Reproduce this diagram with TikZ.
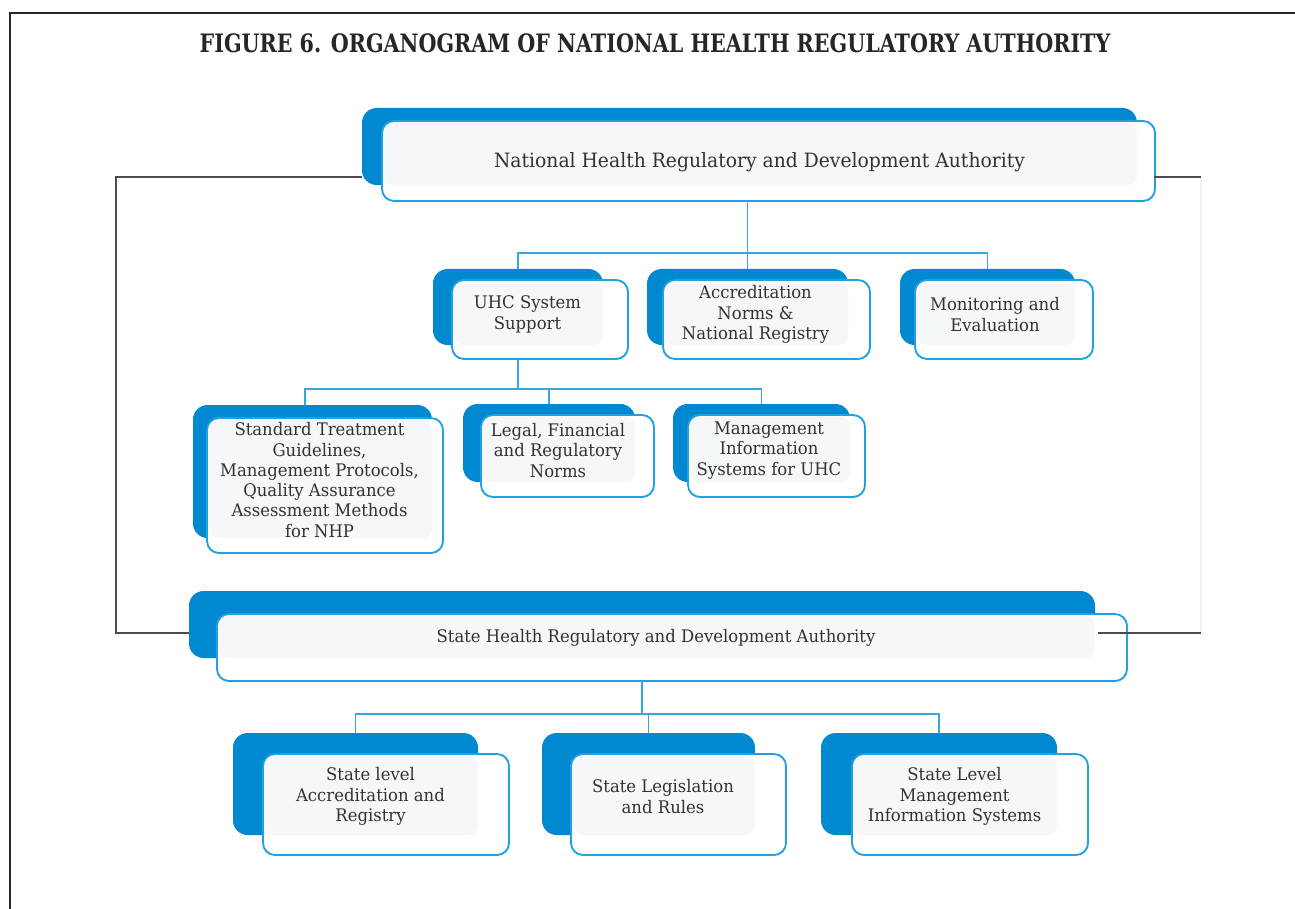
\documentclass[tikz,border=0pt]{standalone}
\usepackage{fontspec}
\setmainfont{DejaVu Serif}
\newfontfamily\titlefont[FakeStretch=0.815]{DejaVu Serif}
\newfontfamily\bodyfont[FakeStretch=0.95]{DejaVu Serif}
\usetikzlibrary{calc,fit}
\definecolor{dblue}{RGB}{0,137,208}
\definecolor{lblue}{RGB}{32,162,226}
\definecolor{cblue}{RGB}{50,168,226}
\definecolor{ingray}{RGB}{246,247,249}
\definecolor{txt}{RGB}{50,50,50}
\definecolor{brk}{RGB}{75,75,75}
\tikzset{
  backbox/.style={fill=dblue, rounded corners=11pt},
  frontbox/.style={draw=lblue, fill=white, line width=1.4pt, rounded corners=9pt},
  innerbox/.style={fill=ingray, rounded corners=7pt},
  boxtext/.style={align=center, text=txt, font=\bodyfont\fontsize{13}{15.2}\selectfont, inner sep=0pt},
  bigtext/.style={font=\bodyfont\fontsize{14.8}{17}\selectfont},
  conn/.style={draw=cblue, line width=1.3pt},
  bracket/.style={draw=brk, line width=1.4pt},
  ghost/.style={inner sep=0pt, draw=none}
}
% #1 name, #2 back top-left, #3 back bottom-right, #4 front top-left, #5 front bottom-right, #6 text
\newcommand\orgbox[7][]{%
  \fill[backbox] (#3) rectangle (#4);
  \node[ghost, fit={(#3)(#4)}] (#2b) {};
  \draw[frontbox] (#5) rectangle (#6);
  \node[ghost, fit={(#5)(#6)}] (#2) {};
  \fill[innerbox] ($(#5)+(2,2)$) rectangle (#4);
  \node[boxtext, #1] (#2t) at ($($(#5)!0.5!(#4)$)+(0,2)$) {#7};
}
\begin{document}
\begin{tikzpicture}[x=0.75pt,y=-0.75pt]
\useasboundingbox (0,0) rectangle (1295,909);
\fill[white] (0,0) rectangle (1295,909);
% frame
\coordinate (fr1) at (10,909);
\coordinate (fr2) at (10,13);
\coordinate (fr3) at (1295,13);
\draw[line width=1.8pt, draw=black!85] (fr1) -- (fr2) -- (fr3);
% title
\node[anchor=base, text=black!85, font=\titlefont\bfseries\fontsize{19}{22}\selectfont, inner sep=0pt] (title) at (655,53)
  {FIGURE 6. ORGANOGRAM OF NATIONAL HEALTH REGULATORY AUTHORITY};

% boxes
\orgbox[bigtext, yshift=-5.5pt]{nat}{362,108}{1137,185}{382,121}{1155,201}{National Health Regulatory and Development Authority}
\orgbox{uhc}{433,269}{603,345}{452,280}{628,359}{UHC System\\Support}
\orgbox{acc}{647,269}{848,345}{663,280}{870,359}{Accreditation\\Norms \&\\National Registry}
\orgbox{mon}{900,269}{1075,345}{915,280}{1093,359}{Monitoring and\\Evaluation}
\orgbox{stg}{193,405}{432,538}{207,418}{443,553}{Standard Treatment\\Guidelines,\\Management Protocols,\\Quality Assurance\\Assessment Methods\\for NHP}
\orgbox{leg}{463,404}{635,482}{481,415}{654,497}{Legal, Financial\\and Regulatory\\Norms}
\orgbox{mis}{673,404}{850,482}{688,415}{865,497}{Management\\Information\\Systems for UHC}
\orgbox{st}{189,591}{1095,658}{217,614}{1127,681}{State Health Regulatory and Development Authority}
\orgbox{sacc}{233,733}{478,835}{263,754}{509,855}{State level\\Accreditation and\\Registry}
\orgbox{sleg}{542,733}{755,835}{571,754}{786,855}{State Legislation\\and Rules}
\orgbox{smis}{821,733}{1057,835}{852,754}{1088,855}{State Level\\Management\\Information Systems}

% bus coordinates
\coordinate (bus1) at (0,253);
\coordinate (bus2) at (0,389);
\coordinate (bus3) at (0,714);
\coordinate (stgtop) at (305,405);

\draw[conn] (accb.north |- nat.south) -- (accb.north);
\draw[conn] (uhcb.north) |- (accb.north |- bus1) -| (monb.north);

\draw[conn] (uhcb.center |- uhc.south) -- (uhcb.center |- bus2);
\draw[conn] (stgtop) |- (uhcb.center |- bus2) -| (misb.north);
\draw[conn] (legb.north |- bus2) -- (legb.north);

\draw[conn] (stb.center |- st.south) -- (stb.center |- bus3);
\draw[conn] (saccb.north) |- (stb.center |- bus3) -| (smisb.north);
\draw[conn] (slegb.north |- bus3) -- (slegb.north);

% brackets
\coordinate (bl1) at (116,177);
\coordinate (bl2) at (116,633);
\coordinate (br1) at (1201,177);
\coordinate (br2) at (1201,633);
\draw[draw=black!6, line width=0.8pt] (br1) -- (br2);
\draw[bracket] (natb.west |- bl1) -- (bl1) -- (bl2) -- (stb.west |- bl2);
\draw[bracket] ([xshift=-1pt]nat.east |- br1) -- (br1);
\draw[bracket] ([xshift=2pt]stb.east |- br2) -- (br2);
\end{tikzpicture}
\end{document}
